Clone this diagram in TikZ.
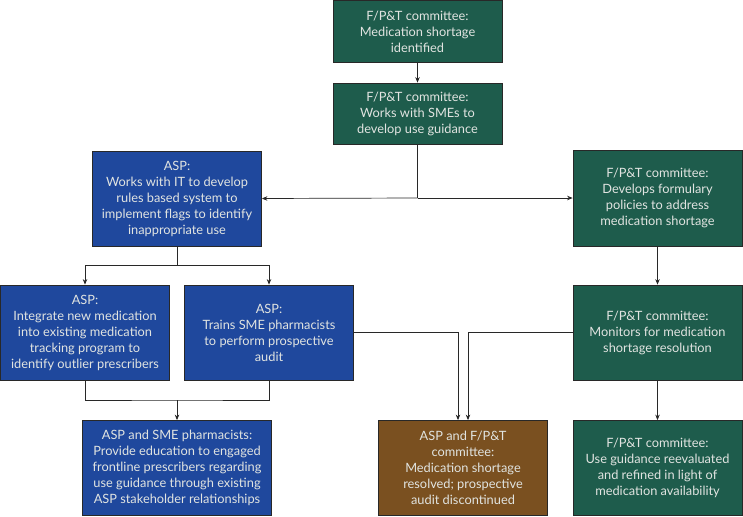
\documentclass[tikz,border=0pt]{standalone}
\usepackage{fontspec}
\setmainfont{Lato}
\usetikzlibrary{arrows.meta}
\definecolor{boxgreen}{RGB}{30,92,76}
\definecolor{boxblue}{RGB}{31,72,157}
\definecolor{boxbrown}{RGB}{122,80,32}
\definecolor{txt}{RGB}{225,228,225}
\definecolor{edge}{RGB}{40,40,40}
\begin{document}
\begin{tikzpicture}[x=1pt,y=-1pt,
  box/.style={draw=edge, line width=0.8pt, rectangle, align=center, text=txt,
    font=\fontsize{12.8}{16}\selectfont, inner sep=2pt, minimum width=169pt},
  gbox/.style={box, fill=boxgreen},
  bbox/.style={box, fill=boxblue},
  rbox/.style={box, fill=boxbrown},
  conn/.style={draw=edge, line width=0.7pt},
  arr/.style={conn, -{Stealth[length=5.5pt,width=4.5pt]}}]
\useasboundingbox (0,0) rectangle (743,516);
\node[gbox, minimum height=62pt] (b1) at (417.5,31.5) {F/P\&T committee:\\Medication shortage\\identified};
\node[gbox, minimum height=61pt] (b2) at (417.5,113.5) {F/P\&T committee:\\Works with SMEs to\\develop use guidance};
\node[bbox, minimum height=95pt] (b3) at (177,198.5) {ASP:\\Works with IT to develop\\rules based system to\\implement flags to identify\\inappropriate use};
\node[gbox, minimum height=96pt] (b4) at (657.5,198) {F/P\&T committee:\\Develops formulary\\policies to address\\medication shortage};
\node[bbox, minimum height=95pt] (b5) at (85,332.5) {ASP:\\Integrate new medication\\into existing medication\\tracking program to\\identify outlier prescribers};
\node[bbox, minimum height=95pt] (b6) at (269,332.5) {ASP:\\Trains SME pharmacists\\to perform prospective\\audit};
\node[gbox, minimum height=95pt] (b7) at (657.5,332.5) {F/P\&T committee:\\Monitors for medication\\shortage resolution};
\node[bbox, minimum height=95pt, minimum width=189pt] (b8) at (177,468) {ASP and SME pharmacists:\\Provide education to engaged\\frontline prescribers regarding\\use guidance through existing\\ASP stakeholder relationships};
\node[rbox, minimum height=95pt] (b9) at (463,468) {ASP and F/P\&T\\committee:\\Medication shortage\\resolved; prospective\\audit discontinued};
\node[gbox, minimum height=95pt] (b10) at (657.5,468) {F/P\&T committee:\\Use guidance reevaluated\\and refined in light of\\medication availability};
\coordinate (j1) at (417.5,198);
\coordinate (j2) at (177,265);
\coordinate (j3) at (177,400);
\draw[arr] (b1) -- (b2);
\draw[conn] (b2.south) -- (j1);
\draw[arr] (j1) -- (b3.east);
\draw[arr] (j1) -- (b4.west);
\draw[conn] (b3.south) -- (j2);
\draw[arr] (j2) -| (b5.north);
\draw[arr] (j2) -| (b6.north);
\draw[arr] (b4) -- (b7);
\draw[conn] (b5.south) |- (j3) -| (b6.south);
\draw[arr] (j3) -- (b8.north);
\draw[arr] (b6.east) -| ([xshift=-5pt]b9.north);
\draw[arr] (b7.west) -| ([xshift=5pt]b9.north);
\draw[arr] (b7) -- (b10);
\end{tikzpicture}
\end{document}
